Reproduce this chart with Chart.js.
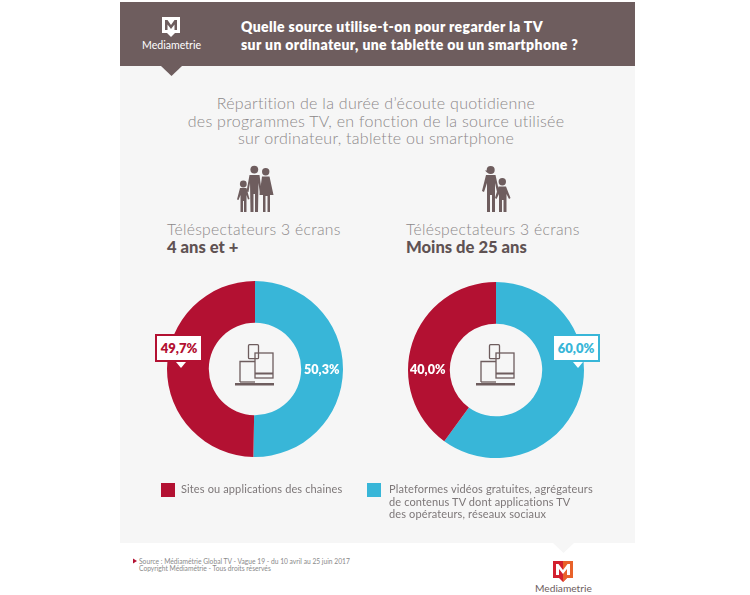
<!DOCTYPE html>
<html lang="fr">
<head>
<meta charset="utf-8">
<title>Mediametrie</title>
<script src="https://cdn.jsdelivr.net/npm/chart.js@4"></script>
<style>
html, body { margin: 0; padding: 0; background: #fff; }
body { width: 750px; height: 595px; position: relative; overflow: hidden; font-family: Lato, sans-serif; }
.abs { position: absolute; }
.t { position: absolute; white-space: nowrap; }
#panel { left: 120px; top: 2px; width: 515px; height: 541px; background: #f6f6f6; }
#head { left: 120px; top: 2px; width: 515px; height: 64px; background: #6e5d5e; }
#title { left: 241px; top: 18px; color: #fff; font: 800 14px/18px Lato, sans-serif; letter-spacing: .38px; }
#sub { left: 176px; width: 400px; top: 94px; text-align: center; color: #8c8889; font: 300 16px/17.6px Lato, sans-serif; letter-spacing: .28px; }
.who { color: #8c8889; font: 300 15.7px/18px Lato, sans-serif; letter-spacing: .3px; }
.who b { color: #5f5253; font-weight: 900; display: block; font-size: 16.6px; letter-spacing: 0; }
canvas { position: absolute; }
.val { position: absolute; font: 800 12.6px/16px Lato, sans-serif; color: #fff; white-space: nowrap; }
.box { position: absolute; box-sizing: border-box; width: 48px; height: 28px; background: #fff; border: 2px solid; text-align: center; font: 800 13px/24px Lato, sans-serif; }
.box i { position: absolute; left: 19px; top: 26px; width: 0; height: 0; border-left: 5px solid transparent; border-right: 5px solid transparent; border-top: 6px solid #fff; }
.sw { position: absolute; width: 14px; height: 14px; }
.leg { color: #7d7778; font: 400 11px/12.6px Lato, sans-serif; letter-spacing: .13px; }
#src { left: 139px; top: 557.5px; color: #8a8a8a; font: 400 6.7px/7.2px Lato, sans-serif; }
</style>
</head>
<body>
<div class="abs" id="panel"></div>
<div class="abs" id="head"></div>
<svg class="abs" style="left:0;top:0" width="750" height="595" viewBox="0 0 750 595">
  <defs>
    <g id="devices" fill="none" stroke="#6e5d5e" stroke-width="1.3">
      <rect x="13.5" y="0.7" width="10" height="14" rx="1"/>
      <path d="M5 38V17.5H20"/>
      <path d="M5 38H20"/>
      <rect x="20" y="9" width="18" height="25"/>
      <path d="M20 29.5H38" stroke-width="2"/>
      <path d="M0 40.2H39" stroke-width="2.4"/>
    </g>
  </defs>
  <!-- bandeau -->
  <path d="M161 66H182L171.5 76Z" fill="#6e5d5e"/>
  <path d="M162 17H180V33H175L171 37L167 33H162Z" fill="#fff"/>
  <path d="M165 30V20H167.5L171 25L174.5 20H177V30H174.5V24.5L171 29L167.5 24.5V30Z" fill="#6e5d5e"/>
  <!-- pictos -->
  <g fill="#6e5d5e">
    <circle cx="254.3" cy="169.6" r="3.9"/>
    <path d="M249.5 175H259.5L262 194L260 194.5L258.5 183L258 212H255V194H253.5V212H250.5L250 183L248.5 192L246.5 191.5Z"/>
    <circle cx="265.7" cy="171.7" r="3.7"/>
    <path d="M262 176.5H269.5L273.5 195H270V212H267.5V196H265.5V212H263V195H259.5Z"/>
    <circle cx="243.3" cy="184" r="3.4"/>
    <path d="M240 188H246.5L249.5 199L248 199.5L246.5 195V212H244V201H243V212H240.5V195L238.5 200L237 199.5Z"/>
    <circle cx="490.7" cy="170" r="4"/>
    <path d="M485 170.5H492V172.5H487Z"/>
    <path d="M486 175H495.5L499 191L497 192L495 183V212H492V195H490V212H487V183L484 192L482 191Z"/>
    <circle cx="502.3" cy="181.7" r="3.7"/>
    <path d="M498.5 186.5H506L510.5 198L509 199L506.5 194V212H503.5V200H502V212H499V194L496.5 199L495 198Z"/>
  </g>
  <use href="#devices" transform="translate(235,344)"/>
  <use href="#devices" transform="translate(476,344)"/>
  <!-- pied -->
  <path d="M553 543H574L563.5 553Z" fill="#f6f6f6"/>
  <path d="M133 558.5L137 561L133 563.5Z" fill="#b31132"/>
  <path d="M553 561H573V578H567L563 582L559 578H553Z" fill="#d3202f"/>
  <path d="M563 561H573V578H567L563 582Z" fill="#e8622a"/>
  <path d="M556 575V564H558.5L563 570L567.5 564H570V575H567V569L563 574L559 569V575Z" fill="#fff"/>
</svg>
<div class="t" id="title">Quelle source utilise-t-on pour regarder la TV<br>sur un ordinateur, une tablette ou un smartphone ?</div>
<div class="t" style="left:142px;top:38px;color:#fff;font:400 10.6px/14px Lato,sans-serif">Mediametrie</div>
<div class="t" id="sub">Répartition de la durée d’écoute quotidienne<br>des programmes TV, en fonction de la source utilisée<br>sur ordinateur, tablette ou smartphone</div>
<div class="t who" style="left:167px;top:220px">Téléspectateurs 3 écrans<b>4 ans et +</b></div>
<div class="t who" style="left:406px;top:220px">Téléspectateurs 3 écrans<b>Moins de 25 ans</b></div>

<canvas id="donut1" style="left:167px;top:281px"></canvas>
<canvas id="donut2" style="left:408px;top:282px"></canvas>

<div class="val" id="v1" style="left:304px;top:362px"></div>
<div class="val" id="v2" style="left:410px;top:362px"></div>
<div class="box" id="b1" style="left:155px;top:334px"><span></span><i></i></div>
<div class="box" id="b2" style="left:552px;top:334px"><span></span><i></i></div>

<div class="sw" id="s1" style="left:161px;top:483px"></div>
<div class="t leg" id="l1" style="left:181px;top:483px"></div>
<div class="sw" id="s2" style="left:367px;top:483px"></div>
<div class="t leg" id="l2" style="left:389px;top:483px"></div>

<div class="t" id="src">Source : Médiamétrie Global TV - Vague 19 - du 10 avril au 25 juin 2017<br>Copyright Médiamétrie - Tous droits réservés</div>
<div class="t" style="left:535px;top:581px;color:#6e5d5e;font:400 10.2px/14px Lato,sans-serif">Mediametrie</div>

<script>
const categories = [
    'Plateformes vidéos gratuites, agrégateurs<br>de contenus TV dont applications TV<br>des opérateurs, réseaux sociaux',
    'Sites ou applications des chaines'
];
const values4Plus = [50.3, 49.7];
const valuesMoins25 = [60.0, 40.0];
const sliceColors = ['#38b6d8', '#b31132'];

const fmt = v => v.toFixed(1).replace('.', ',') + '%';

const makeDonut = (id, values) => {
    const canvas = document.getElementById(id);
    canvas.width = 176;
    canvas.height = 176;
    return new Chart(canvas.getContext('2d'), {
        type: 'doughnut',
        data: {
            labels: categories,
            datasets: [{
                data: values,
                backgroundColor: sliceColors,
                borderWidth: 0
            }]
        },
        options: {
            responsive: false,
            animation: false,
            cutout: '52.5%',
            plugins: {
                legend: { display: false },
                tooltip: { enabled: false }
            }
        }
    });
};

makeDonut('donut1', values4Plus);
makeDonut('donut2', valuesMoins25);

document.getElementById('v1').textContent = fmt(values4Plus[0]);
document.getElementById('v2').textContent = fmt(valuesMoins25[1]);

const b1 = document.getElementById('b1');
b1.querySelector('span').textContent = fmt(values4Plus[1]);
b1.style.borderColor = b1.style.color = sliceColors[1];
const b2 = document.getElementById('b2');
b2.querySelector('span').textContent = fmt(valuesMoins25[0]);
b2.style.borderColor = b2.style.color = sliceColors[0];

document.getElementById('s1').style.background = sliceColors[1];
document.getElementById('s2').style.background = sliceColors[0];
document.getElementById('l1').innerHTML = categories[1];
document.getElementById('l2').innerHTML = categories[0];
</script>
</body>
</html>
